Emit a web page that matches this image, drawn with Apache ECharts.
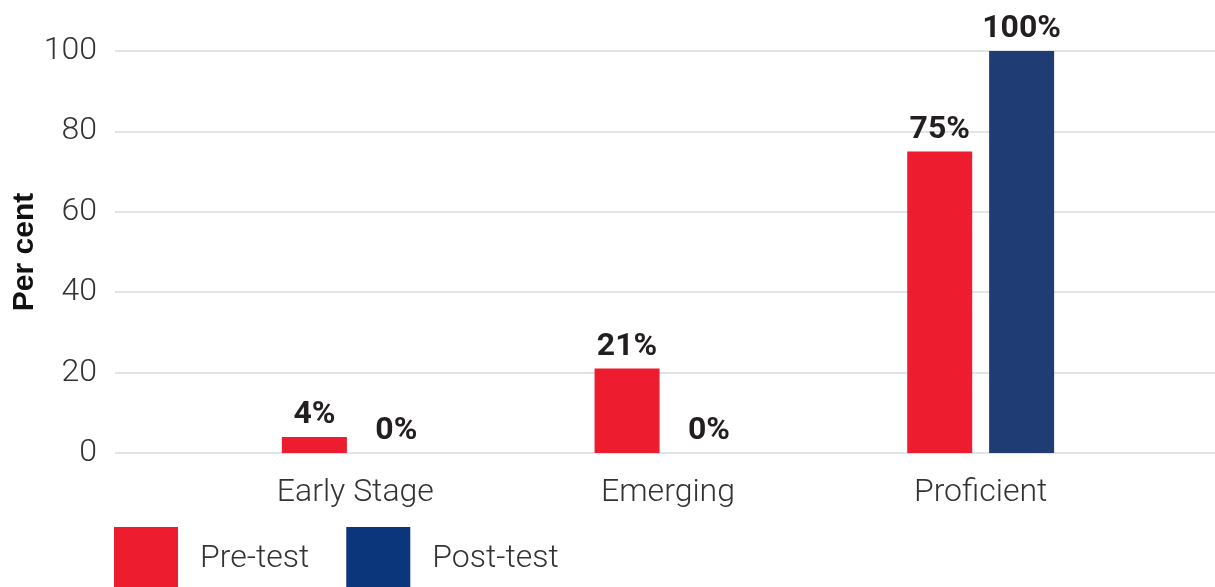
<!DOCTYPE html>
<html>
<head>
<meta charset="utf-8">
<script src="https://cdn.jsdelivr.net/npm/echarts@6/dist/echarts.min.js"></script>
<style>
  html, body { margin: 0; padding: 0; background: #fff; }
  #chart { width: 1215px; height: 587px; }
</style>
</head>
<body>
<div id="chart"></div>
<script>
// Share of learners at each reading level, before and after the programme
var categories = ['Early Stage', 'Emerging', 'Proficient'];
var preTest = [4, 21, 75];
var postTest = [0, 0, 100];
var yTicks = [0, 20, 40, 60, 80, 100];

var RED = '#ED1C2E';
var NAVY = '#1F3C74';
var NAVY_KEY = '#0B367C';

var chart = echarts.init(document.getElementById('chart'), null, { renderer: 'canvas' });

var labelStyle = {
  show: true,
  position: 'top',
  distance: 6,
  fontFamily: 'Roboto',
  fontWeight: 'bold',
  fontSize: 32,
  color: '#231F20',
  formatter: function (p) { return p.value + '%'; }
};

var lightText = {
  fontFamily: 'Roboto',
  fontWeight: 300,
  fontSize: 32,
  color: '#333'
};

chart.setOption({
  animation: false,
  legend: {
    left: 114,
    top: 527,
    padding: 0,
    itemWidth: 64,
    itemHeight: 64,
    itemGap: 37,
    icon: 'rect',
    textStyle: Object.assign({ padding: [0, 0, 0, 17] }, lightText),
    data: [
      { name: 'Pre-test', itemStyle: { color: RED } },
      { name: 'Post-test', itemStyle: { color: NAVY_KEY } }
    ]
  },
  grid: [
    // wide grid carries the value scale and its gridlines
    { left: 115, right: 0, top: 51, bottom: 134, outerBoundsMode: 'none', containLabel: false },
    // inner grid holds the category bands and bars
    { left: 199, right: 78, top: 51, bottom: 134, outerBoundsMode: 'none', containLabel: false }
  ],
  xAxis: [
    { gridIndex: 0, type: 'category', data: categories, show: false },
    {
      gridIndex: 1,
      type: 'category',
      data: categories,
      axisLine: { show: false },
      axisTick: { show: false },
      axisLabel: Object.assign({ margin: 24 }, lightText)
    }
  ],
  yAxis: [
    {
      gridIndex: 0,
      type: 'value',
      min: yTicks[0],
      max: yTicks[yTicks.length - 1],
      interval: yTicks[1] - yTicks[0],
      name: 'Per cent',
      nameLocation: 'middle',
      nameGap: 75,
      nameMoveOverlap: false,
      nameTextStyle: {
        fontFamily: 'Liberation Sans',
        fontWeight: 'bold',
        fontSize: 30,
        color: '#111'
      },
      axisLine: { show: false },
      axisTick: { show: false },
      axisLabel: Object.assign({ margin: 18 }, lightText),
      splitLine: { lineStyle: { color: '#DFE4E7', width: 2 } }
    },
    {
      gridIndex: 1,
      type: 'value',
      min: yTicks[0],
      max: yTicks[yTicks.length - 1],
      interval: yTicks[1] - yTicks[0],
      show: false,
      splitLine: { show: false }
    }
  ],
  series: [
    {
      name: 'Pre-test',
      type: 'bar',
      xAxisIndex: 1,
      yAxisIndex: 1,
      data: preTest,
      barWidth: 65,
      barGap: '26%',
      itemStyle: { color: RED },
      label: labelStyle
    },
    {
      name: 'Post-test',
      type: 'bar',
      xAxisIndex: 1,
      yAxisIndex: 1,
      data: postTest,
      barWidth: 65,
      itemStyle: { color: NAVY },
      label: labelStyle
    }
  ]
});
</script>
</body>
</html>
